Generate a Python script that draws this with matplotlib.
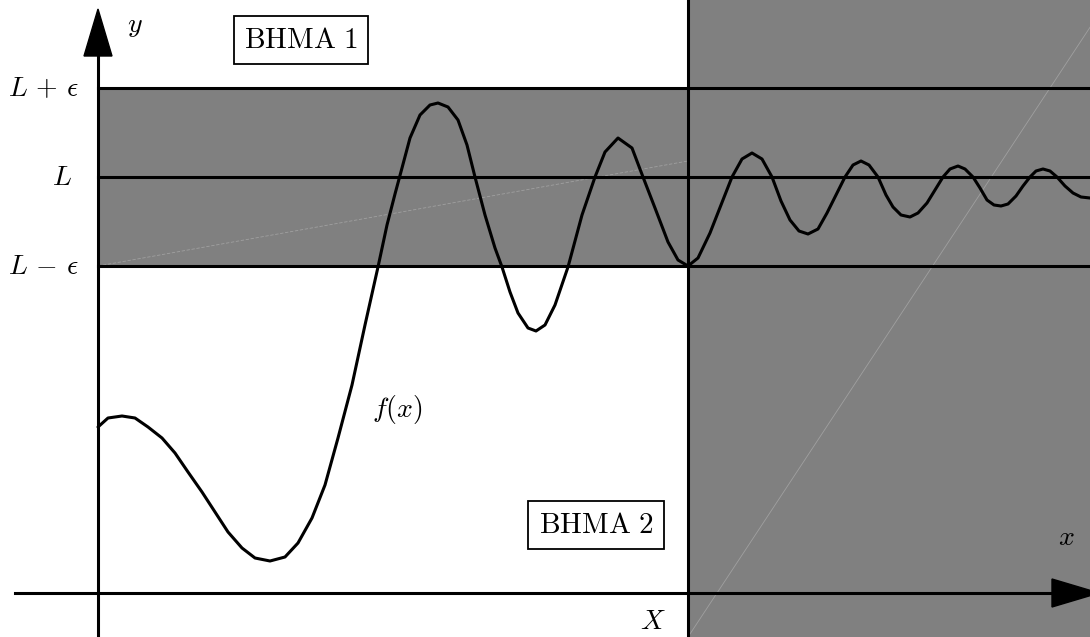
import matplotlib
matplotlib.use("Agg")
from matplotlib import pyplot as plt
from matplotlib.patches import Rectangle, Polygon

plt.rcParams['mathtext.fontset'] = 'cm'

# curve f(x) (origin at the axes crossing)
fx = [0, 10, 24, 37, 50, 64, 77, 90, 104, 117, 130, 144, 157, 172, 187, 200,
      214, 227, 240, 254, 267, 280, 289, 297, 304, 312, 322, 332, 340, 350,
      360, 369, 377, 387, 397, 404, 412, 420, 430, 438, 447, 457, 470, 484,
      497, 507, 520, 534, 545, 557, 570, 580, 590,
      600, 612, 623, 634, 644, 654, 664, 674, 683, 692, 701, 710, 720, 729,
      738, 747, 755, 763, 771, 780, 788, 795, 803, 812, 820, 829, 837, 845,
      852, 860, 867, 875, 882, 889, 896, 903, 910, 918, 925, 932, 938, 945,
      952, 959, 967, 975, 983, 992]
fy = [166, 175, 177, 175, 166, 155, 140, 121, 101, 81, 61, 45, 35, 32, 36, 50,
      75, 108, 155, 208, 268, 326, 368, 399, 425, 455, 478, 488, 490, 486,
      473, 448, 416, 378, 345, 326, 301, 280, 265, 262, 268, 288, 326, 378,
      416, 441, 455, 445, 416, 385, 351, 333, 327,
      335, 360, 388, 416, 434, 440, 434, 416, 392, 373, 362, 359, 364, 380,
      398, 416, 428, 432, 428, 416, 398, 386, 378, 376, 380, 390, 403, 416,
      424, 427, 424, 416, 405, 393, 388, 387, 389, 397, 407, 416, 422, 424,
      422, 416, 407, 400, 396, 395]

L = 416
eps = 89
X = 590
x_min, x_max = -98, 992
y_min, y_max = -44, 593

gray = '#808080'
lw = 2.2


def main():
    fig = plt.figure(figsize=(10.9, 6.37), dpi=100)
    ax = fig.add_axes([0, 0, 1, 1])
    ax.set_xlim(x_min, x_max)
    ax.set_ylim(y_min, y_max)
    ax.axis('off')

    # shaded band and region beyond X
    ax.add_patch(Rectangle((0, L - eps), x_max, 2 * eps, color=gray, lw=0, zorder=1))
    ax.add_patch(Rectangle((X, y_min), x_max - X, y_max - y_min, color=gray, lw=0, zorder=1))
    # faint seams of the fills
    ax.plot([0, X], [L - eps, L + 16], color='#a0a0a0', lw=0.6, ls=(0, (4, 2)), zorder=2)
    ax.plot([X, 1010], [y_min, y_max], color='#a0a0a0', lw=0.6, zorder=2)

    for yy in (L - eps, L, L + eps):
        ax.plot([0, x_max], [yy, yy], color='k', lw=lw, zorder=3)
    ax.plot([X, X], [y_min, y_max], color='k', lw=lw, zorder=3)

    ax.plot(fx, fy, color='k', lw=lw, zorder=4, solid_joinstyle='round',
            solid_capstyle='round')

    # axes with arrow heads
    ax.plot([0, 0], [y_min, 540], color='k', lw=lw, zorder=5)
    ax.add_patch(Polygon([[-14, 537], [14, 537], [0, 584]], closed=True,
                         color='k', zorder=5))
    ax.plot([-83, 956], [0, 0], color='k', lw=lw, zorder=5)
    ax.add_patch(Polygon([[954, -14], [954, 14], [1001, 0]], closed=True,
                         color='k', zorder=5))

    fs = 20
    ax.text(37, 568, '$y$', fontsize=fs, ha='center', va='center')
    ax.text(968, 56, '$x$', fontsize=fs, ha='center', va='center')
    ax.text(-55, L + eps, r'$L\,+\,\epsilon$', fontsize=fs, ha='center', va='center')
    ax.text(-36, L, '$L$', fontsize=fs, ha='center', va='center')
    ax.text(-55, L - eps, r'$L\,-\,\epsilon$', fontsize=fs, ha='center', va='center')
    ax.text(299, 183, '$f(x)$', fontsize=fs, ha='center', va='center')
    ax.text(555, -28, '$X$', fontsize=fs, ha='center', va='center')

    box = dict(boxstyle='square,pad=0.35', fc='white', ec='k', lw=1.3)
    ax.text(203, 553, r'$\mathrm{BHMA\ 1}$', fontsize=21, ha='center', va='center',
            bbox=box, zorder=6)
    ax.text(498, 68, r'$\mathrm{BHMA\ 2}$', fontsize=21, ha='center', va='center',
            bbox=box, zorder=6)

    fig.savefig('out.png', dpi=100)


if __name__ == '__main__':
    main()
